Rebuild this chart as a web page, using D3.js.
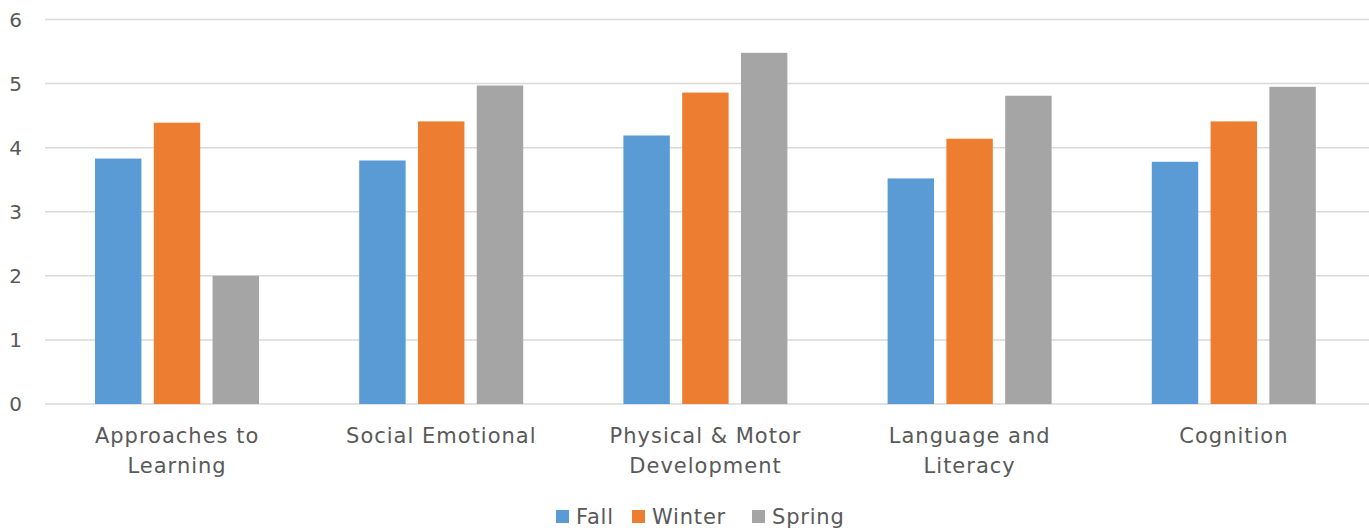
<!DOCTYPE html>
<html>
<head>
<meta charset="utf-8">
<script src="https://cdn.jsdelivr.net/npm/d3@7"></script>
<style>
  body { margin: 0; background: #fff; }
  text { font-family: "DejaVu Sans", sans-serif; fill: #595959; }
</style>
</head>
<body>
<svg id="chart" width="1369" height="531"></svg>
<script>
var categories = [
  ["Approaches to", "Learning"],
  ["Social Emotional"],
  ["Physical & Motor", "Development"],
  ["Language and", "Literacy"],
  ["Cognition"]
];
var seriesNames = ["Fall", "Winter", "Spring"];
var colors = ["#5B9BD5", "#ED7D31", "#A5A5A5"];
var fall = [3.83, 3.80, 4.19, 3.52, 3.78];
var winter = [4.39, 4.41, 4.86, 4.14, 4.41];
var spring = [2.0, 4.97, 5.48, 4.81, 4.95];
var yTicks = [0, 1, 2, 3, 4, 5, 6];

var svg = d3.select('#chart');
var values = [fall, winter, spring];

var x0 = d3.scaleBand()
  .domain(d3.range(categories.length))
  .range([45, 1366]);

var x1 = d3.scaleBand()
  .domain(d3.range(seriesNames.length))
  .range([50, 214])
  .paddingInner(0.21);

var y = d3.scaleLinear().domain([0, 6]).range([404, 19.5]);

// gridlines
svg.selectAll('.grid')
  .data(yTicks)
  .enter().append('line')
  .attr('class', 'grid')
  .attr('x1', 45).attr('x2', 1369)
  .attr('y1', function(d) { return y(d); })
  .attr('y2', function(d) { return y(d); })
  .attr('stroke', '#d9d9d9')
  .attr('stroke-width', 1.5);

svg.selectAll('.ytick')
  .data(yTicks)
  .enter().append('text')
  .attr('class', 'ytick')
  .attr('x', 22)
  .attr('y', function(d) { return y(d); })
  .attr('dy', '0.35em')
  .attr('text-anchor', 'end')
  .style('font-size', '20px')
  .text(function(d) { return d; });

var groups = svg.selectAll('.group')
  .data(categories)
  .enter().append('g')
  .attr('class', 'group')
  .attr('transform', function(d, i) { return 'translate(' + x0(i) + ',0)'; });

groups.selectAll('rect')
  .data(function(d, i) {
    return values.map(function(s, k) { return { k: k, v: s[i] }; });
  })
  .enter().append('rect')
  .attr('x', function(d) { return x1(d.k); })
  .attr('width', x1.bandwidth())
  .attr('y', function(d) { return y(d.v); })
  .attr('height', function(d) { return y(0) - y(d.v); })
  .attr('fill', function(d) { return colors[d.k]; });

groups.each(function(lines) {
  var t = d3.select(this).append('text')
    .attr('text-anchor', 'middle')
    .style('font-size', '21px')
    .style('letter-spacing', '1px');
  lines.forEach(function(line, j) {
    t.append('tspan')
      .attr('x', x0.bandwidth() / 2)
      .attr('y', 443 + j * 30)
      .text(line);
  });
});

// legend
var legendX = [556, 632, 752];
var legend = svg.selectAll('.legend')
  .data(seriesNames)
  .enter().append('g')
  .attr('class', 'legend')
  .attr('transform', function(d, i) { return 'translate(' + legendX[i] + ',510)'; });

legend.append('rect')
  .attr('width', 13).attr('height', 13)
  .attr('fill', function(d, i) { return colors[i]; });

legend.append('text')
  .attr('x', 20)
  .attr('y', 7)
  .attr('dy', '0.35em')
  .style('font-size', '21px')
  .style('letter-spacing', '0.8px')
  .text(function(d) { return d; });
</script>
</body>
</html>
